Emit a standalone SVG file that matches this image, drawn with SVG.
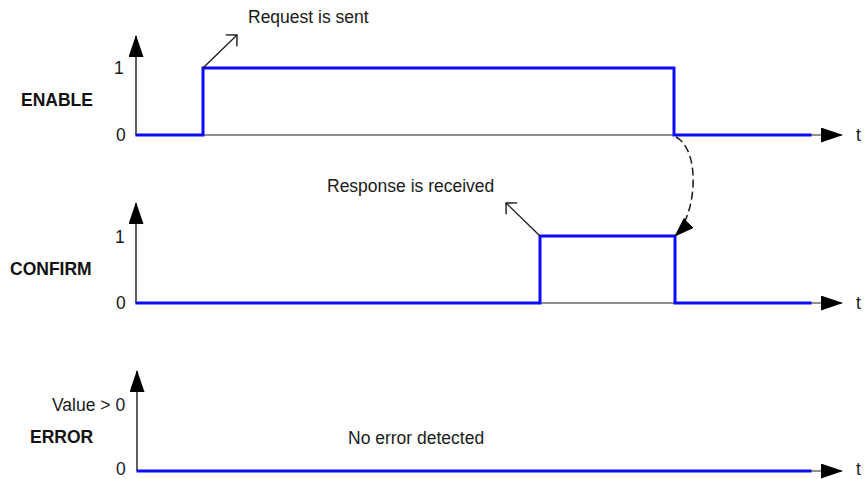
<svg xmlns="http://www.w3.org/2000/svg" width="864" height="479" viewBox="0 0 864 479">
  <style>
    text { font-family: "Liberation Sans", Arial, sans-serif; font-size: 17.5px; fill: #1a1a1a; }
    .name { font-weight: bold; fill: #111; }
    .axis { fill: none; stroke: #1a1a1a; stroke-width: 1.4; marker-end: url(#tri); }
    .base { fill: none; stroke: #222; stroke-width: 1.2; }
    .wave { fill: none; stroke: #0a0aff; stroke-width: 3; stroke-linejoin: miter; stroke-linecap: square; }
    .note { fill: none; stroke: #1a1a1a; stroke-width: 1.3; marker-end: url(#open); }
    .link { fill: none; stroke: #1a1a1a; stroke-width: 1.5; stroke-dasharray: 8 4; marker-end: url(#triSmall); }
  </style>
  <defs>
    <marker id="tri" markerUnits="userSpaceOnUse" viewBox="0 0 22 15" markerWidth="22" markerHeight="15" refX="21" refY="7.5" orient="auto">
      <path d="M0,0 L22,7.5 L0,15 Z" fill="#000"/>
    </marker>
    <marker id="triSmall" markerUnits="userSpaceOnUse" viewBox="0 0 20 14" markerWidth="20" markerHeight="14" refX="19" refY="7" orient="auto">
      <path d="M0,0 L20,7 L0,14 Z" fill="#000"/>
    </marker>
    <marker id="open" markerUnits="userSpaceOnUse" viewBox="-10 -10 12 20" markerWidth="12" markerHeight="20" refX="0" refY="0" orient="auto">
      <path d="M-8,-8 L0,0 L-8,8" fill="none" stroke="#1a1a1a" stroke-width="1.4"/>
    </marker>
  </defs>

  <!-- ENABLE signal -->
  <g id="enable">
    <text class="name" x="21" y="106">ENABLE</text>
    <text x="114" y="74">1</text>
    <text x="116" y="141">0</text>
    <text x="856" y="141">t</text>
    <path class="axis" d="M136,135 L136,36"/>
    <path class="base" d="M136,135 L842,135" marker-end="url(#tri)"/>
    <path class="wave" d="M137,135 L203,135 L203,68 L674,68 L674,135 L810,135"/>
  </g>

  <!-- CONFIRM signal -->
  <g id="confirm">
    <text class="name" x="10" y="275">CONFIRM</text>
    <text x="115" y="243">1</text>
    <text x="116" y="309">0</text>
    <text x="856" y="309">t</text>
    <path class="axis" d="M136,303 L136,203"/>
    <path class="base" d="M136,303 L842,303" marker-end="url(#tri)"/>
    <path class="wave" d="M137,303 L540,303 L540,236 L675,236 L675,303 L810,303"/>
  </g>

  <!-- ERROR signal -->
  <g id="error">
    <text class="name" x="30" y="443">ERROR</text>
    <text x="52" y="411">Value &gt; 0</text>
    <text x="116" y="475">0</text>
    <text x="856" y="475">t</text>
    <text x="348" y="444">No error detected</text>
    <path class="axis" d="M137,471 L137,371"/>
    <path class="base" d="M137,471 L842,471" marker-end="url(#tri)"/>
    <path class="wave" d="M138,471 L810,471"/>
  </g>

  <!-- annotations and the cause/effect link -->
  <g id="connectors">
    <text x="248" y="23">Request is sent</text>
    <path class="note" d="M203,68 L237,35"/>
    <text x="327" y="192">Response is received</text>
    <path class="note" d="M540,236 L506,203"/>
    <path class="link" d="M676,137 C701,150 697,215 675,236"/>
  </g>
</svg>
